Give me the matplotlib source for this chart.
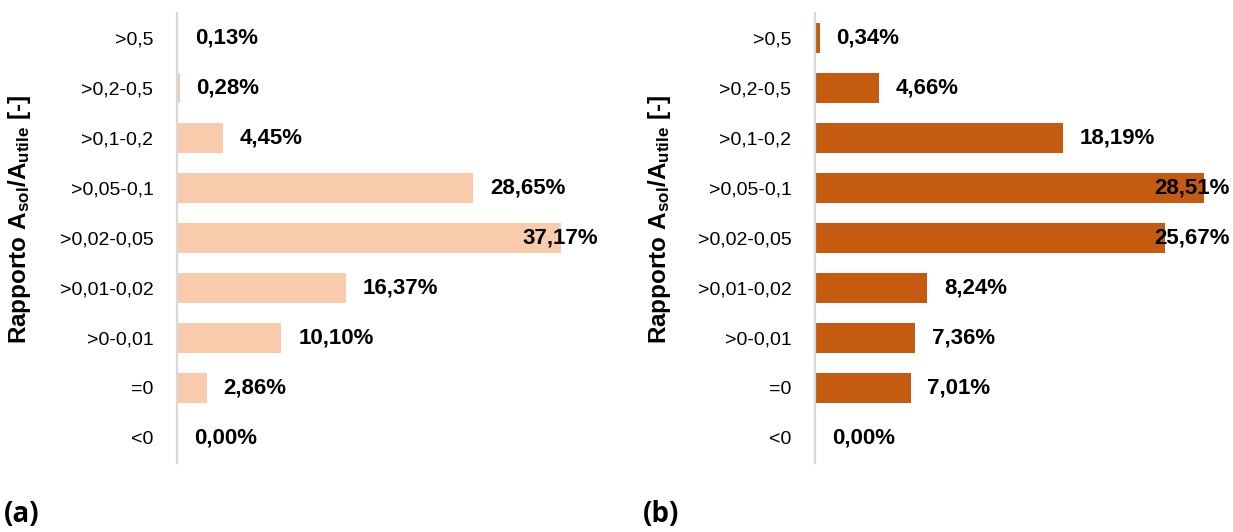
import matplotlib.pyplot as plt

plt.rcParams["font.family"] = ["Liberation Sans", "DejaVu Sans"]
plt.rcParams["mathtext.fontset"] = "custom"
plt.rcParams["mathtext.bf"] = "Liberation Sans:bold"
plt.rcParams["mathtext.rm"] = "Liberation Sans"

categorie = [">0,5", ">0,2-0,5", ">0,1-0,2", ">0,05-0,1", ">0,02-0,05",
             ">0,01-0,02", ">0-0,01", "=0", "<0"]
valori_a = [0.13, 0.28, 4.45, 28.65, 37.17, 16.37, 10.10, 2.86, 0.00]
valori_b = [0.34, 4.66, 18.19, 28.51, 25.67, 8.24, 7.36, 7.01, 0.00]

colore_a = "#F8CBAD"
colore_b = "#C55A11"

W, H = 1233, 532
fig = plt.figure(figsize=(W / 100, H / 100), dpi=100)


def pannello(left_px, width_px, xmax, valori, colore, lettera, lettera_x, label_x):
    ax = fig.add_axes([left_px / W, (H - 463) / H, width_px / W, 450 / H])
    pos = list(range(len(categorie)))
    ax.barh(pos, valori, height=0.6, color=colore, edgecolor="none")
    ax.set_ylim(len(categorie) - 0.5, -0.5)
    ax.set_xlim(0, xmax)
    ax.set_yticks(pos)
    ax.set_yticklabels(categorie, fontsize=14)
    ax.tick_params(axis="y", length=0, pad=17)
    ax.set_xticks([])
    for s in ["top", "right", "bottom"]:
        ax.spines[s].set_visible(False)
    ax.spines["left"].set_color("#D9D9D9")
    ax.spines["left"].set_linewidth(1.6)
    ax.set_ylabel(r"Rapporto $\mathbf{A_{sol}/A_{utile}}$ [-]",
                  fontsize=17.5, fontweight="bold")
    ax.yaxis.set_label_coords((label_x - left_px) / width_px, (463 - 219) / 450)

    etichette = []
    for i, v in enumerate(valori):
        testo = f"{v:.2f}".replace(".", ",") + "%"
        t = ax.annotate(testo, (v, i), xytext=(12, 0), textcoords="offset points",
                        ha="left", va="center", fontsize=16, fontweight="bold")
        etichette.append((t, testo, i))

    fig.text(lettera_x / W, (H - 515) / H, lettera, fontsize=20,
             fontweight="bold", va="center", family="Open Sans")
    return ax, etichette


ax_a, et_a = pannello(177, 421, 40.7, valori_a, colore_a, "(a)", 4, 33)
ax_b, et_b = pannello(815, 415, 30.4, valori_b, colore_b, "(b)", 643, 673)

fig.canvas.draw()
renderer = fig.canvas.get_renderer()
for ax, etichette in [(ax_a, et_a), (ax_b, et_b)]:
    destra = ax.get_window_extent(renderer).x1
    for t, testo, i in etichette:
        if t.get_window_extent(renderer).x1 > destra:
            t.remove()
            ax.text(ax.get_xlim()[1], i, testo, ha="right", va="center",
                    fontsize=16, fontweight="bold", clip_on=False)

fig.savefig("out.png", dpi=100)
